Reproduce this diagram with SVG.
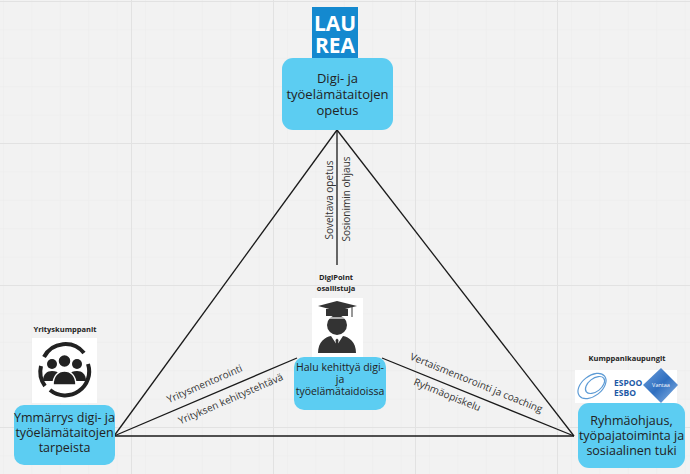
<svg xmlns="http://www.w3.org/2000/svg" width="690" height="474" viewBox="0 0 690 474">
<style>
.box{fill:#5ccdf2;}
.bt{font-family:"Open Sans","Noto Sans",sans-serif;font-size:12.5px;fill:#222;text-anchor:middle;}
.tt{font-family:"Open Sans","Noto Sans",sans-serif;font-size:13px;fill:#222;text-anchor:middle;}
.ct{font-family:"Open Sans","Noto Sans",sans-serif;font-size:10.5px;fill:#222;text-anchor:middle;}
.lbl{font-family:"Open Sans","Noto Sans",sans-serif;font-size:10px;fill:#333;text-anchor:middle;}
.hd{font-family:"Open Sans","Noto Sans",sans-serif;font-size:7.5px;font-weight:bold;fill:#222;text-anchor:middle;}
.edge{stroke:#1a1a1a;stroke-width:1.3;fill:none;}
.minor{stroke:#ebebeb;stroke-width:1;}
.major{stroke:#e2e2e2;stroke-width:1;}
</style>
<defs>
<pattern id="mg" x="3" y="1" width="28.4" height="28.4" patternUnits="userSpaceOnUse">
<path d="M0 0H28.4M0 0V28.4" class="minor" fill="none"/>
</pattern>
<pattern id="Mg" x="131" y="1" width="142" height="142" patternUnits="userSpaceOnUse">
<path d="M0 0.5H142M0.5 0V142" class="major" fill="none"/>
</pattern>
<linearGradient id="vg" x1="0" y1="0" x2="1" y2="1">
<stop offset="0" stop-color="#6fa0dc"/>
<stop offset="0.5" stop-color="#2f6fc0"/>
<stop offset="1" stop-color="#8fb8e6"/>
</linearGradient>
</defs>
<rect width="690" height="474" fill="#f2f2f2"/>
<rect width="690" height="474" fill="url(#mg)"/>
<rect width="690" height="474" fill="url(#Mg)"/>

<g id="connectors">
<path class="edge" d="M337 130L114 436"/>
<path class="edge" d="M337 130L574 436"/>
<path class="edge" d="M337 130V265"/>
<path class="edge" d="M114 436H574"/>
<path class="edge" d="M114 436L297 358"/>
<path class="edge" d="M382 358L574 436"/>
<text class="lbl" transform="translate(333 200) rotate(-90)">Soveltava opetus</text>
<text class="lbl" transform="translate(350 199) rotate(-90)">Sosionimin ohjaus</text>
<text class="lbl" transform="translate(206 387) rotate(-23.5)">Yritysmentorointi</text>
<text class="lbl" transform="translate(232 402) rotate(-23.5)">Yrityksen kehitystehtävä</text>
<text class="lbl" transform="translate(475 386) rotate(22.2)">Vertaismentorointi ja coaching</text>
<text class="lbl" transform="translate(446 398) rotate(22.2)">Ryhmäopiskelu</text>
</g>

<g id="laurea">
<rect x="312" y="7" width="46" height="51" fill="#1489cf"/>
<text x="335" y="31" font-family="Open Sans, Noto Sans, sans-serif" font-size="21" font-weight="bold" fill="#fff" text-anchor="middle">LAU</text>
<text x="335" y="53" font-family="Open Sans, Noto Sans, sans-serif" font-size="21" font-weight="bold" fill="#fff" text-anchor="middle">REA</text>
</g>

<g id="top-node">
<rect class="box" x="282" y="58" width="111" height="72" rx="11"/>
<text class="tt" x="337.5" y="83">Digi- ja</text>
<text class="tt" x="337.5" y="99">työelämätaitojen</text>
<text class="tt" x="337.5" y="115">opetus</text>
</g>

<g id="center-node">
<text class="hd" x="336" y="280">DigiPoint</text>
<text class="hd" x="336" y="291">osallistuja</text>
<rect x="312" y="298" width="51" height="60" fill="#fff"/>
<path d="M318 306L337 301L357 306L337 311Z" fill="#333"/>
<path d="M326 309H348V316H326Z" fill="#333"/>
<path d="M352 307V317" stroke="#333" stroke-width="1"/>
<ellipse cx="337" cy="325" rx="10" ry="10" fill="#333"/>
<path d="M327 318H347" stroke="#fff" stroke-width="1.2"/>
<path d="M318 353C318 342 325 337 331 336L337 345L343 336C349 337 356 342 356 353Z" fill="#333"/>
<path d="M335.5 340L337 338.5L338.5 340L337.8 347H336.2Z" fill="#333"/>
<rect class="box" x="294" y="357" width="92" height="53" rx="10"/>
<text class="ct" x="340" y="371">Halu kehittyä digi-</text>
<text class="ct" x="340" y="383">ja</text>
<text class="ct" x="340" y="395">työelämätaidoissa</text>
</g>

<g id="left-node">
<text class="hd" x="65" y="332">Yrityskumppanit</text>
<rect x="32" y="338" width="65" height="65" fill="#fff"/>
<path d="M44 357A24 24 0 0 1 84 353" stroke="#222" stroke-width="4" fill="none"/>
<path d="M88 364A24 24 0 0 1 50 390" stroke="#222" stroke-width="4" fill="none"/>
<path d="M45 386A24 24 0 0 1 41 366" stroke="#222" stroke-width="4" fill="none"/>
<circle cx="52" cy="364" r="5" fill="#222"/>
<circle cx="77" cy="364" r="5" fill="#222"/>
<path d="M43 381C43 374 47 371 52 371C56 371 58 372 59 374L58 381Z" fill="#222"/>
<path d="M86 381C86 374 82 371 77 371C73 371 71 372 70 374L71 381Z" fill="#222"/>
<circle cx="64.5" cy="361" r="6.5" fill="#222" stroke="#fff" stroke-width="1.5"/>
<path d="M53 385C53 376 58 371 64.5 371C71 371 76 376 76 385Z" fill="#222" stroke="#fff" stroke-width="1.5"/>
<rect class="box" x="14" y="405" width="101" height="60" rx="10"/>
<text class="bt" x="64.5" y="422">Ymmärrys digi- ja</text>
<text class="bt" x="64.5" y="437">työelämätaitojen</text>
<text class="bt" x="64.5" y="452">tarpeista</text>
</g>

<g id="right-node">
<text class="hd" x="627" y="361">Kumppanikaupungit</text>
<rect x="575" y="370" width="102" height="33" fill="#fff"/>
<ellipse cx="592" cy="386" rx="16" ry="10" transform="rotate(-38 592 386)" stroke="#5d9bd5" stroke-width="1.2" fill="none"/>
<ellipse cx="595" cy="385" rx="11" ry="6.5" transform="rotate(-38 595 385)" stroke="#5d9bd5" stroke-width="1.2" fill="none"/>
<text x="614" y="386" font-family="Open Sans, Noto Sans, sans-serif" font-size="8.5" font-weight="bold" fill="#1d5aa6">ESPOO</text>
<text x="614" y="396" font-family="Open Sans, Noto Sans, sans-serif" font-size="8.5" font-weight="bold" fill="#1d5aa6">ESBO</text>
<path d="M661 368L678 385L661 403L643 385Z" fill="url(#vg)"/>
<text x="661" y="387" font-family="Open Sans, Noto Sans, sans-serif" font-size="5.5" fill="#fff" text-anchor="middle">Vantaa</text>
<rect class="box" x="578" y="403" width="107" height="65" rx="11"/>
<text class="bt" x="631.5" y="425">Ryhmäohjaus,</text>
<text class="bt" x="631.5" y="440">työpajatoiminta ja</text>
<text class="bt" x="631.5" y="455">sosiaalinen tuki</text>
</g>
</svg>
